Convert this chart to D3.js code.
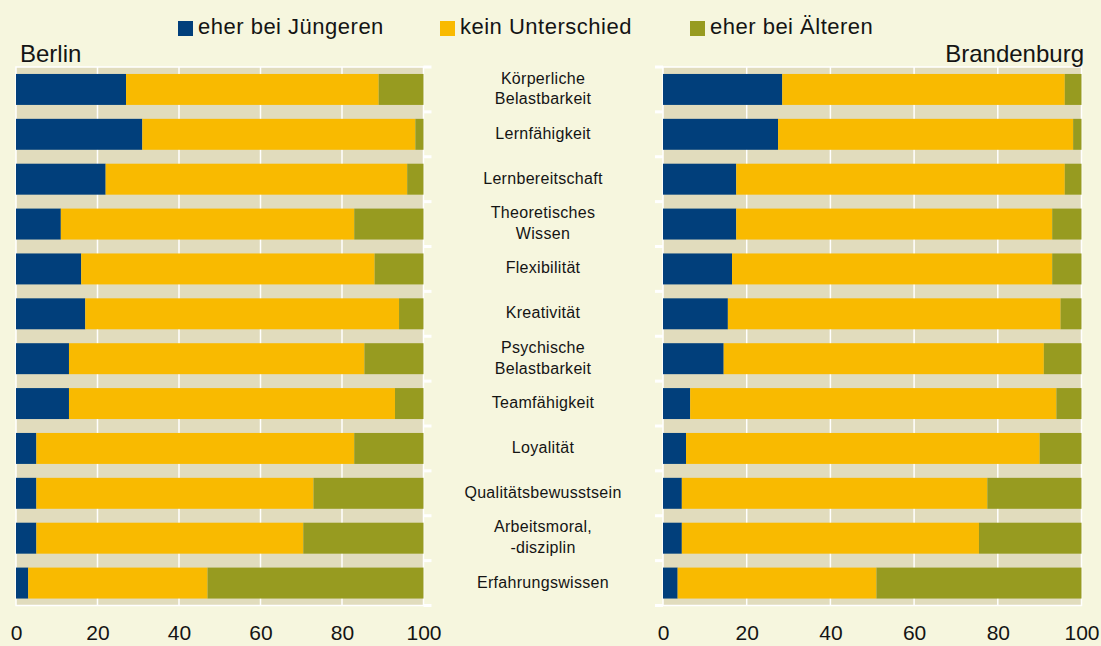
<!DOCTYPE html>
<html>
<head>
<meta charset="utf-8">
<script src="https://cdn.jsdelivr.net/npm/d3@7"></script>
<style>
  body { margin: 0; background: #f6f6de; }
  svg { display: block; }
  text { font-family: "Liberation Sans", Arial, sans-serif; fill: #141414; }
</style>
</head>
<body>
<svg></svg>
<script>
// categories, top to bottom (label lines)
var categories = [
	["Körperliche", "Belastbarkeit"],
	["Lernfähigkeit"],
	["Lernbereitschaft"],
	["Theoretisches", "Wissen"],
	["Flexibilität"],
	["Kreativität"],
	["Psychische", "Belastbarkeit"],
	["Teamfähigkeit"],
	["Loyalität"],
	["Qualitätsbewusstsein"],
	["Arbeitsmoral,", "-disziplin"],
	["Erfahrungswissen"]
];

var seriesNames = ["eher bei Jüngeren", "kein Unterschied", "eher bei Älteren"];

// Berlin (percent)
var berlinYoung = [27, 31, 22, 11, 16, 17, 13, 13, 5, 5, 5, 3];
var berlinSame  = [62, 67, 74, 72, 72, 77, 72.5, 80, 78, 68, 65.5, 44];
var berlinOld   = [11, 2, 4, 17, 12, 6, 14.5, 7, 17, 27, 29.5, 53];

// Brandenburg (percent)
var brbYoung = [28.5, 27.5, 17.5, 17.5, 16.5, 15.5, 14.5, 6.5, 5.5, 4.5, 4.5, 3.5];
var brbSame  = [67.5, 70.5, 78.5, 75.5, 76.5, 79.5, 76.5, 87.5, 84.5, 73, 71, 47.5];
var brbOld   = [4, 2, 4, 7, 7, 5, 9, 6, 10, 22.5, 24.5, 49];

var xTicks = [0, 20, 40, 60, 80, 100];

var colors = ["#013f7b", "#f9ba00", "#979b20"];
var beige = "#e1dcbd";
var keys = ["young", "same", "old"];

var width = 1101, height = 646;
var plotTop = 67, plotBottom = 605.5;

var svg = d3.select("svg")
	.attr("width", width)
	.attr("height", height);

// one band per category
var y = d3.scaleBand()
	.domain(d3.range(categories.length))
	.range([plotTop, plotBottom])
	.paddingInner(0.31)
	.paddingOuter(0.155);

var drawPanel = function(x0, x1, young, same, old, side) {
	var x = d3.scaleLinear().domain([0, 100]).range([x0, x1]);
	var g = svg.append("g");

	// plot background with white frame
	g.append("rect")
		.attr("x", x0)
		.attr("y", plotTop)
		.attr("width", x1 - x0)
		.attr("height", plotBottom - plotTop)
		.attr("fill", beige)
		.attr("stroke", "#fff")
		.attr("stroke-width", 1.5);

	// vertical grid
	g.selectAll("line.grid")
		.data(xTicks.slice(1, -1))
		.enter()
		.append("line")
		.attr("x1", function(d) { return x(d); })
		.attr("x2", function(d) { return x(d); })
		.attr("y1", plotTop)
		.attr("y2", plotBottom)
		.attr("stroke", "#fff")
		.attr("stroke-width", 1.5);

	var rows = categories.map(function(c, i) {
		return { i: i, young: young[i], same: same[i], old: old[i] };
	});
	var stacked = d3.stack().keys(keys)(rows);

	// stacked bars
	g.selectAll("g.series")
		.data(stacked)
		.enter()
		.append("g")
		.attr("fill", function(d, i) { return colors[i]; })
		.selectAll("rect")
		.data(function(d) { return d; })
		.enter()
		.append("rect")
		.attr("x", function(d) { return x(d[0]); })
		.attr("width", function(d) { return x(d[1]) - x(d[0]); })
		.attr("y", function(d) { return y(d.data.i); })
		.attr("height", y.bandwidth());

	// category ticks on the inner side
	var tx = side == "right" ? x1 : x0;
	var bounds = d3.range(categories.length + 1).map(function(i) {
		return plotTop + i * y.step();
	});
	g.selectAll("line.ctick")
		.data(bounds)
		.enter()
		.append("line")
		.attr("x1", tx)
		.attr("x2", tx + (side == "right" ? 8 : -8))
		.attr("y1", function(d) { return d; })
		.attr("y2", function(d) { return d; })
		.attr("stroke", "#fff")
		.attr("stroke-width", 3);

	// x axis
	var axis = g.append("g")
		.attr("transform", "translate(0," + plotBottom + ")")
		.call(d3.axisBottom(x).tickValues(xTicks).tickSize(0).tickPadding(20));
	axis.select(".domain").remove();
	axis.attr("font-family", null).attr("font-size", null);
	axis.selectAll("text")
		.style("font-size", "21px")
		.attr("fill", "#141414");
};

drawPanel(16, 423.5, berlinYoung, berlinSame, berlinOld, "right");
drawPanel(663, 1081.5, brbYoung, brbSame, brbOld, "left");

// category labels in the middle
var labels = svg.append("g")
	.selectAll("text")
	.data(categories)
	.enter()
	.append("text")
	.attr("text-anchor", "middle")
	.style("font-size", "16px")
	.style("letter-spacing", "0.3px");

labels.each(function(lines, i) {
	var cy = y(i) + y.bandwidth() / 2;
	var first = cy + 4.5 - (lines.length - 1) * 10.35;
	d3.select(this).selectAll("tspan")
		.data(lines)
		.enter()
		.append("tspan")
		.attr("x", 543)
		.attr("y", function(d, j) { return first + j * 20.7; })
		.text(function(d) { return d; });
});

// panel titles
svg.append("text")
	.attr("x", 20)
	.attr("y", 62)
	.style("font-size", "24px")
	.text("Berlin");

svg.append("text")
	.attr("x", 1084)
	.attr("y", 62)
	.attr("text-anchor", "end")
	.style("font-size", "24px")
	.text("Brandenburg");

// legend
var legendX = [178, 440, 690];
var legend = svg.selectAll("g.legend")
	.data(seriesNames)
	.enter()
	.append("g")
	.attr("transform", function(d, i) { return "translate(" + legendX[i] + ",21)"; });

legend.append("rect")
	.attr("width", 15)
	.attr("height", 15)
	.attr("fill", function(d, i) { return colors[i]; });

legend.append("text")
	.attr("x", 20)
	.attr("y", 13)
	.style("font-size", "22px")
	.style("letter-spacing", "0.5px")
	.text(function(d) { return d; });
</script>
</body>
</html>
